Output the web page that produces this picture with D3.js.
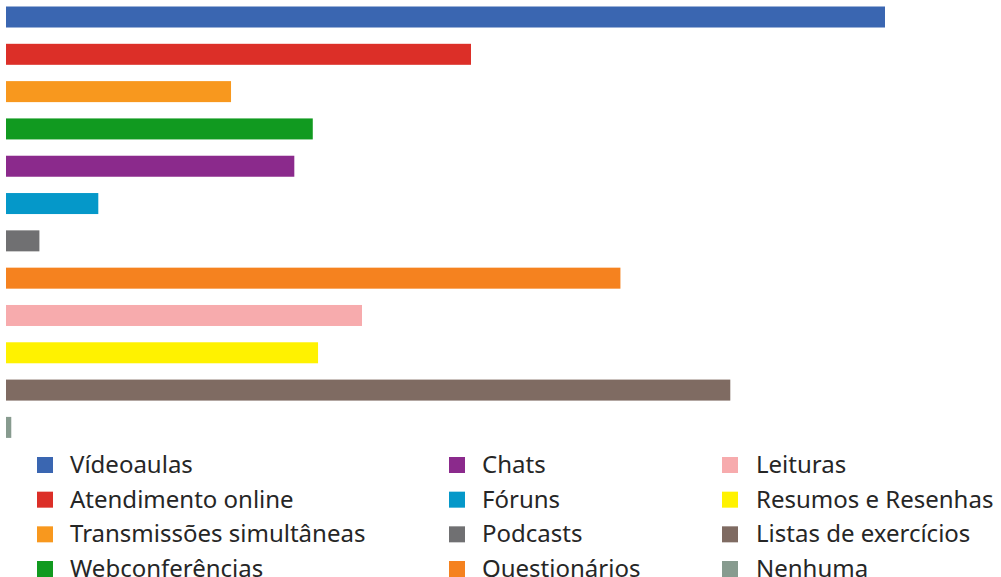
<!DOCTYPE html>
<html>
<head>
<meta charset="utf-8">
<script src="https://cdn.jsdelivr.net/npm/d3@7"></script>
<style>
  body { margin: 0; background: #fff; }
  text { font-family: "Noto Sans", sans-serif; }
</style>
</head>
<body>
<div id="chart"></div>
<script>
// categories, in bar order (top to bottom)
var categories = ["Vídeoaulas", "Atendimento online", "Transmissões simultâneas", "Webconferências",
  "Chats", "Fóruns", "Podcasts", "Questionários",
  "Leituras", "Resumos e Resenhas", "Listas de exercícios", "Nenhuma"];
// values (%)
var values = [100, 52.9, 25.6, 34.9, 32.8, 10.5, 3.8, 69.9, 40.5, 35.5, 82.4, 0.6];
var colors = ["#3a66b1", "#dc2f28", "#f8981e", "#119a20", "#8b2a8c", "#0598c9", "#707072", "#f5821f",
  "#f7abad", "#fff200", "#7f6b62", "#879b8f"];

var svgWidth = 1001, svgHeight = 577;

var svg = d3.select("#chart").append("svg")
  .attr("width", svgWidth)
  .attr("height", svgHeight);

var xScale = d3.scaleLinear()
  .domain([0, 100])
  .range([6, 885]);

var yScale = d3.scaleBand()
  .domain(categories)
  .range([6.5, 437.9])
  .paddingInner(0.437)
  .paddingOuter(0);

svg.append("g").selectAll("rect")
  .data(categories)
  .enter()
  .append("rect")
  .attr("x", xScale(0))
  .attr("y", d => yScale(d))
  .attr("width", (d, i) => xScale(values[i]) - xScale(0))
  .attr("height", yScale.bandwidth())
  .attr("fill", (d, i) => colors[i]);

// legend: 3 columns x 4 rows
var colX = [37, 449, 722];
var textX = [70, 482, 756];
var rowY = d3.scalePoint().domain([0, 1, 2, 3]).range([457, 561]);

var legend = svg.append("g").selectAll("g")
  .data(categories)
  .enter()
  .append("g")
  .attr("transform", (d, i) => `translate(0, ${rowY(i % 4)})`);

legend.append("rect")
  .attr("x", (d, i) => colX[Math.floor(i / 4)])
  .attr("y", 0)
  .attr("width", 16)
  .attr("height", 16)
  .attr("fill", (d, i) => colors[i]);

legend.append("text")
  .attr("x", (d, i) => textX[Math.floor(i / 4)])
  .attr("y", 16)
  .style("font-size", "24px")
  .style("fill", "#262626")
  .text(d => d);
</script>
</body>
</html>
